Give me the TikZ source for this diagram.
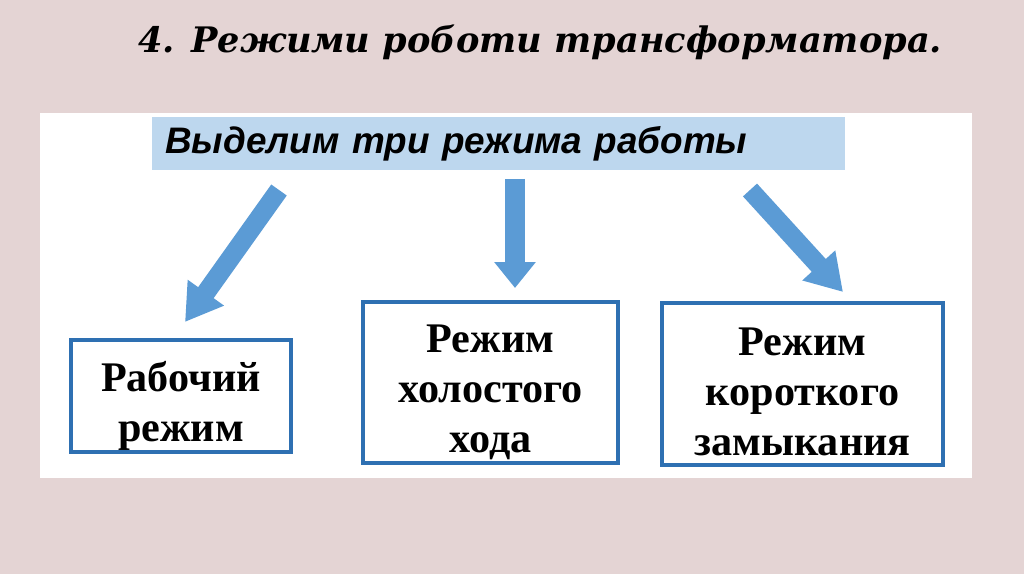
\documentclass[tikz,border=0pt]{standalone}
\usepackage{fontspec}
\setmainfont{Liberation Serif}
\newfontfamily\barfont{Liberation Sans}
\newfontfamily\titlefont{DejaVu Serif}
\usetikzlibrary{arrows.meta}

\definecolor{slidebg}{RGB}{228,212,212}
\definecolor{barblue}{RGB}{189,215,238}
\definecolor{arrowblue}{RGB}{91,155,213}
\definecolor{boxblue}{RGB}{46,112,178}

\begin{document}
\begin{tikzpicture}[
  x=0.02cm, y=-0.02cm,
  title/.style={font=\titlefont\bfseries\itshape\fontsize{20}{24}\selectfont, inner sep=0pt},
  bar/.style={fill=barblue, minimum width=13.86cm, minimum height=1.06cm,
              inner xsep=0.26cm, inner ysep=0pt, text width=13.34cm, align=left,
              font=\barfont\bfseries\itshape\fontsize{21}{25}\selectfont},
  mode/.style={draw=boxblue, line width=2.3pt, fill=white, inner sep=0pt},
  modetext/.style={align=center, inner sep=0pt,
                   font=\bfseries\fontsize{24}{28.5}\selectfont},
  bigarrow/.style={draw=arrowblue, line width=0.38cm,
                   -{Triangle[width=0.84cm, length=0.72cm]}},
  downarrow/.style={draw=arrowblue, line width=0.4cm,
                    -{Triangle[width=0.8cm, length=0.52cm]}}
]

% ---------- slide background ----------
\fill[slidebg] (0,0) rectangle (1024,574);
\useasboundingbox (0,0) rectangle (1024,574);
\fill[white] (40,113) rectangle (972,478);

% ---------- title ----------
\node[title, anchor=base west] (ttl) at (138,53) {4. Режими роботи трансформатора.};

% ---------- header bar ----------
\node[bar] (hdr) at (498.5,143.5) {Выделим три режима работы};

% ---------- modes ----------
\node[mode, minimum width=4.4cm, minimum height=2.24cm]  (m1) at (181,396)   {};
\node[mode, minimum width=5.1cm, minimum height=3.22cm]  (m2) at (490.5,382.5) {};
\node[mode, minimum width=5.62cm, minimum height=3.24cm] (m3) at (802.5,384) {};

\node[modetext] (m1t) at ([yshift=-0.2cm]m1.center) {Рабочий\\режим};
\node[modetext] (m2t) at ([yshift=-0.2cm]m2.center) {Режим\\холостого\\хода};
\node[modetext] (m3t) at ([yshift=-0.16cm]m3.center) {Режим\\короткого\\замыкания};

% ---------- arrows ----------
\coordinate (a1s) at (279,190);
\coordinate (a1e) at (185,322);
\coordinate (a2s) at (515,179);
\coordinate (a2e) at (515,288);
\coordinate (a3s) at (750,190);
\coordinate (a3e) at (843,292);
\draw[bigarrow]  (a1s) -- (a1e);
\draw[downarrow] (a2s) -- (a2e);
\draw[bigarrow]  (a3s) -- (a3e);

\end{tikzpicture}
\end{document}
